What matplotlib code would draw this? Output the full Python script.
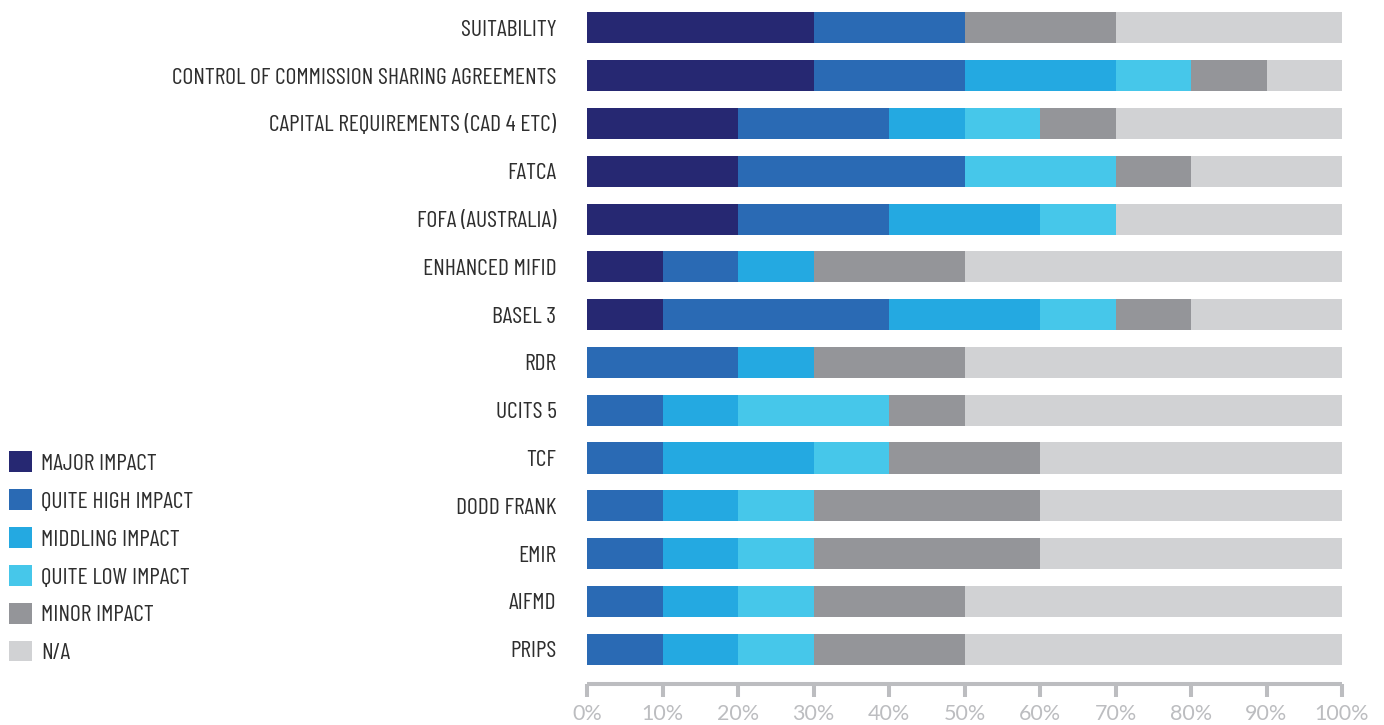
import matplotlib
matplotlib.use('Agg')
import matplotlib.pyplot as plt
from matplotlib.patches import Patch
import numpy as np

plt.rcParams['font.family'] = ['Barlow Condensed', 'PT Sans Narrow', 'DejaVu Sans']

# 各类别（从上到下）
categories = ['SUITABILITY', 'CONTROL OF COMMISSION SHARING AGREEMENTS',
              'CAPITAL REQUIREMENTS (CAD 4 ETC)', 'FATCA', 'FOFA (AUSTRALIA)',
              'ENHANCED MIFID', 'BASEL 3', 'RDR', 'UCITS 5', 'TCF',
              'DODD FRANK', 'EMIR', 'AIFMD', 'PRIPS']

# 每个影响程度的百分比
major = [30, 30, 20, 20, 20, 10, 10, 0, 0, 0, 0, 0, 0, 0]
quite_high = [20, 20, 20, 30, 20, 10, 30, 20, 10, 10, 10, 10, 10, 10]
middling = [0, 20, 10, 0, 20, 10, 20, 10, 10, 20, 10, 10, 10, 10]
quite_low = [0, 10, 10, 20, 10, 0, 10, 0, 20, 10, 10, 10, 10, 10]
minor = [20, 10, 10, 10, 0, 20, 10, 20, 10, 20, 30, 30, 20, 20]
na = [30, 10, 30, 20, 30, 50, 20, 50, 50, 40, 40, 40, 50, 50]

series_names = ['MAJOR IMPACT', 'QUITE HIGH IMPACT', 'MIDDLING IMPACT',
                'QUITE LOW IMPACT', 'MINOR IMPACT', 'N/A']
colors = ['#262872', '#2a6ab4', '#24a9e1', '#46c7ea', '#949599', '#d1d2d4']
x_ticks = [0, 10, 20, 30, 40, 50, 60, 70, 80, 90, 100]

text_color = '#2e2e2e'
axis_color = '#bcbdc0'

fig = plt.figure(figsize=(13.84, 7.25), dpi=100)
ax = fig.add_axes([587 / 1384, 1 - 684 / 725, (1342 - 587) / 1384, (684 - 4) / 725])

y = np.arange(len(categories))
left = np.zeros(len(categories))
for vals, c in zip([major, quite_high, middling, quite_low, minor, na], colors):
    vals = np.array(vals, dtype=float)
    ax.barh(y, vals, left=left, height=0.65, color=c, edgecolor='none')
    left += vals

ax.set_xlim(0, 100)
ax.set_ylim(13.73, -0.5)
ax.set_yticks(y)
ax.set_yticklabels(categories, fontsize=17, color=text_color)
ax.tick_params(axis='y', length=0, pad=22)
ax.set_xticks(x_ticks)
ax.set_xticklabels([f'{t}%' for t in x_ticks], fontsize=15.5, color='#bcbdc0',
                   family=['Lato', 'DejaVu Sans'])
ax.tick_params(axis='x', direction='out', length=9.5, width=2.9, color=axis_color, pad=5)

for s in ['top', 'right', 'left']:
    ax.spines[s].set_visible(False)
ax.spines['bottom'].set_color(axis_color)
ax.spines['bottom'].set_linewidth(2.9)
ax.spines['bottom'].set_capstyle('butt')

handles = [Patch(facecolor=c, edgecolor='none') for c in colors]
fig.legend(handles, series_names, loc='upper left', bbox_to_anchor=(0.0, 1 - 442 / 725),
           frameon=False, fontsize=17, handlelength=0.95, handleheight=0.95,
           handletextpad=0.4, labelspacing=0.62, borderaxespad=0.0,
           labelcolor=text_color)

fig.savefig('out.png', dpi=100)
